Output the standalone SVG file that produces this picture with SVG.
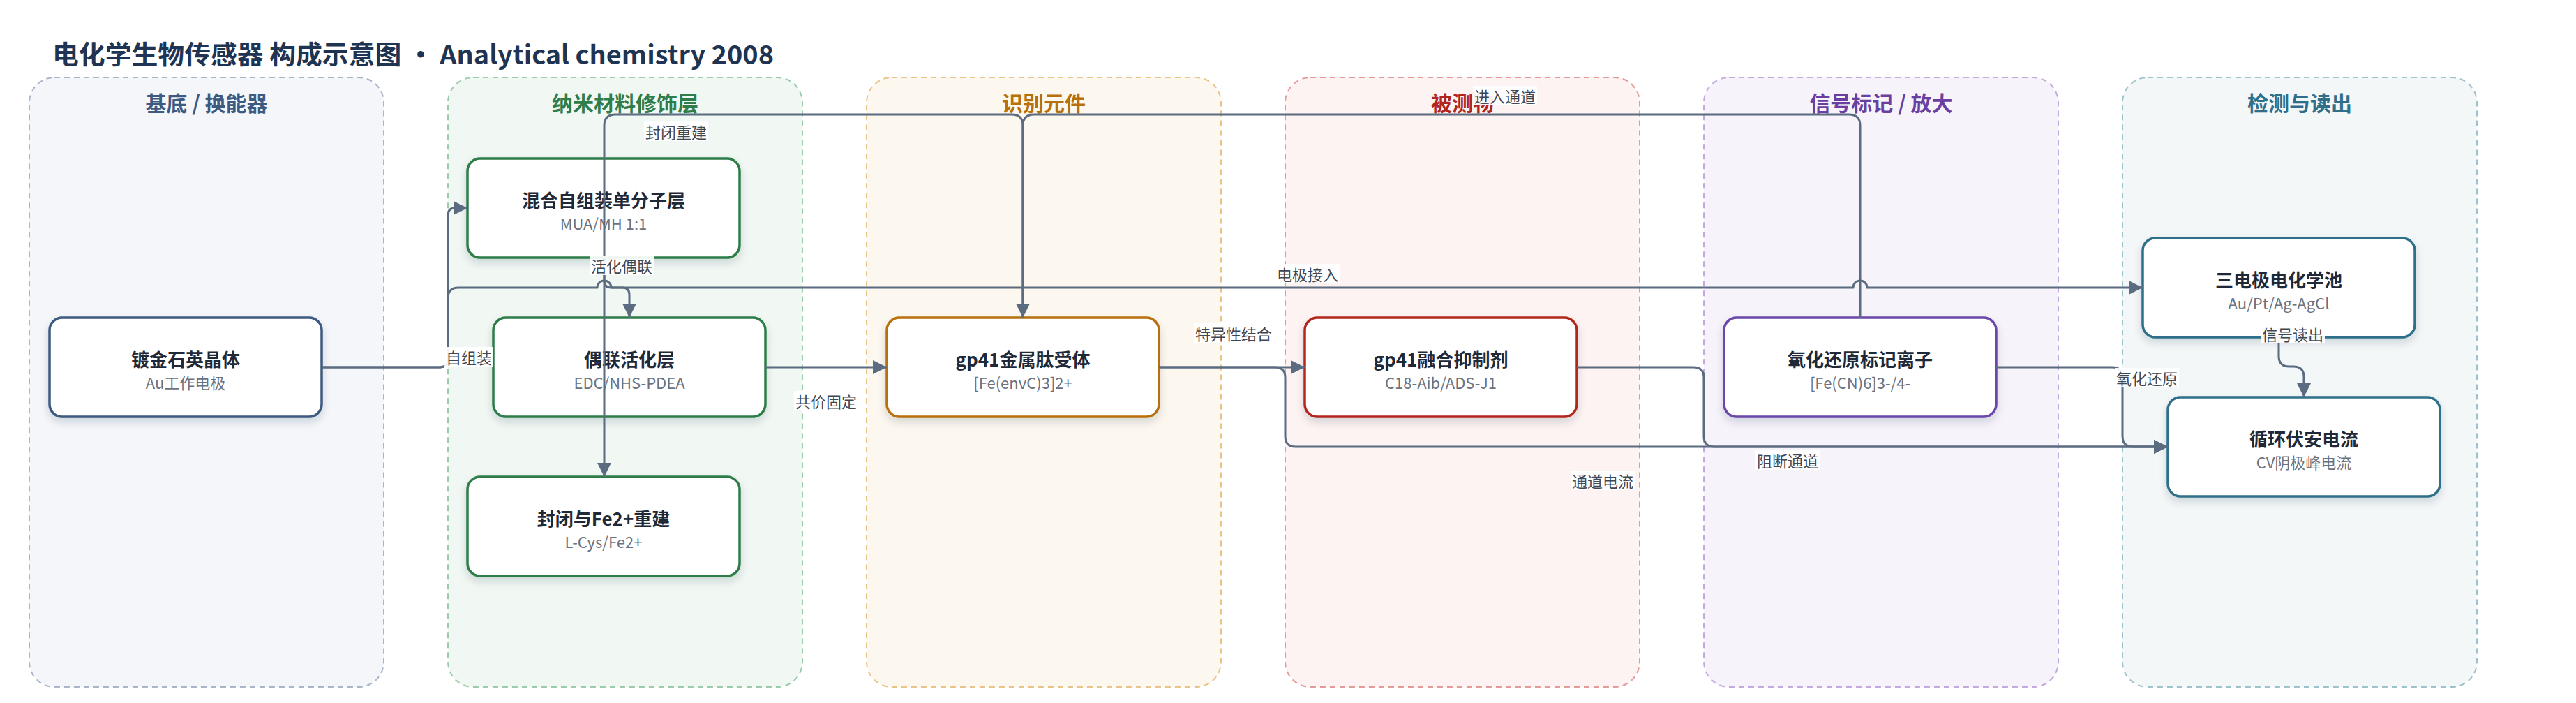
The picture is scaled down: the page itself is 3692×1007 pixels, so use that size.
<svg xmlns="http://www.w3.org/2000/svg" width="3692" height="1007" viewBox="0 0 3692 1007">
<defs>
<filter id="shadow" x="-10%" y="-15%" width="120%" height="150%">
<feDropShadow dx="0" dy="6" stdDeviation="6" flood-color="#1f2937" flood-opacity="0.16"/>
</filter>
<marker id="arrow" viewBox="0 0 20 20" refX="20" refY="10" markerWidth="20" markerHeight="20" markerUnits="userSpaceOnUse" orient="auto">
<path d="M0,0 L20,10 L0,20 z" fill="#5b6b80"/>
</marker>
</defs>
<style>
text{font-family:'Noto Sans CJK SC','Noto Sans',sans-serif}
.lane{stroke-width:2;stroke-dasharray:8 6}
.lt1{font-size:30px;font-weight:700;text-anchor:middle;dominant-baseline:central}
.node rect{fill:#ffffff;stroke-width:3.5;filter:url(#shadow)}
.nt{font-size:26px;font-weight:700;fill:#1f2937;text-anchor:middle;dominant-baseline:central}
.ns{font-size:22px;fill:#6b7280;text-anchor:middle;dominant-baseline:central}
.edge{fill:none;stroke:#5b6b80;stroke-width:3;stroke-linejoin:round}
.arr{marker-end:url(#arrow)}
.lbg{fill:#ffffff;fill-opacity:0.92}
.el{font-size:22px;fill:#3f4754;text-anchor:middle;dominant-baseline:central}
</style>
<rect width="3692" height="1007" fill="#ffffff"/>
<text x="75" y="76" font-size="37" font-weight="700" fill="#1e3452" dominant-baseline="central" textLength="1034" lengthAdjust="spacingAndGlyphs">电化学生物传感器 构成示意图 · Analytical chemistry 2008</text>

<g id="lanes">
<g id="lane-substrate">
<rect class="lane" x="42" y="111" width="508" height="873" rx="36" fill="#f4f6fa" stroke="#a9b5c9"/>
<text class="lt1" x="296" y="146" fill="#3d5a80">基底 / 换能器</text>
</g>
<g id="lane-nano">
<rect class="lane" x="642" y="111" width="508" height="873" rx="36" fill="#f1f8f3" stroke="#9ccbab"/>
<text class="lt1" x="896" y="146" fill="#2e7d4a">纳米材料修饰层</text>
</g>
<g id="lane-recog">
<rect class="lane" x="1242" y="111" width="508" height="873" rx="36" fill="#fdf8ef" stroke="#e9c489"/>
<text class="lt1" x="1496" y="146" fill="#b8700a">识别元件</text>
</g>
<g id="lane-analyte">
<rect class="lane" x="1842" y="111" width="508" height="873" rx="36" fill="#fdf3f2" stroke="#e49b98"/>
<text class="lt1" x="2096" y="146" fill="#b0261f">被测物</text>
</g>
<g id="lane-label">
<rect class="lane" x="2442" y="111" width="508" height="873" rx="36" fill="#f6f3fb" stroke="#c4a9e0"/>
<text class="lt1" x="2696" y="146" fill="#6b3fa0">信号标记 / 放大</text>
</g>
<g id="lane-detect">
<rect class="lane" x="3042" y="111" width="508" height="873" rx="36" fill="#f3f7f8" stroke="#9ec2cd"/>
<text class="lt1" x="3296" y="146" fill="#2f6f8a">检测与读出</text>
</g>
</g>

<g id="node-electrode" class="node">
<rect x="71" y="455" width="390" height="142" rx="18" stroke="#3d5a80"/>
<text class="nt" x="266" y="513">镀金石英晶体</text>
<text class="ns" x="266" y="547">Au工作电极</text>
</g>
<g id="node-sam" class="node">
<rect x="670" y="227" width="390" height="142" rx="18" stroke="#2e7d4a"/>
<text class="nt" x="865" y="285">混合自组装单分子层</text>
<text class="ns" x="865" y="319">MUA/MH 1:1</text>
</g>
<g id="node-coupling" class="node">
<rect x="707" y="455" width="390" height="142" rx="18" stroke="#2e7d4a"/>
<text class="nt" x="902" y="513">偶联活化层</text>
<text class="ns" x="902" y="547">EDC/NHS-PDEA</text>
</g>
<g id="node-blocking" class="node">
<rect x="670" y="683" width="390" height="142" rx="18" stroke="#2e7d4a"/>
<text class="nt" x="865" y="741">封闭与Fe2+重建</text>
<text class="ns" x="865" y="775">L-Cys/Fe2+</text>
</g>
<g id="node-receptor" class="node">
<rect x="1271" y="455" width="390" height="142" rx="18" stroke="#b8700a"/>
<text class="nt" x="1466" y="513">gp41金属肽受体</text>
<text class="ns" x="1466" y="547">[Fe(envC)3]2+</text>
</g>
<g id="node-inhibitor" class="node">
<rect x="1870" y="455" width="390" height="142" rx="18" stroke="#b3261e"/>
<text class="nt" x="2065" y="513">gp41融合抑制剂</text>
<text class="ns" x="2065" y="547">C18-Aib/ADS-J1</text>
</g>
<g id="node-redox" class="node">
<rect x="2471" y="455" width="390" height="142" rx="18" stroke="#6b46a8"/>
<text class="nt" x="2666" y="513">氧化还原标记离子</text>
<text class="ns" x="2666" y="547">[Fe(CN)6]3-/4-</text>
</g>
<g id="node-cell" class="node">
<rect x="3071" y="341" width="390" height="142" rx="18" stroke="#2f6f8a"/>
<text class="nt" x="3266" y="399">三电极电化学池</text>
<text class="ns" x="3266" y="433">Au/Pt/Ag-AgCl</text>
</g>
<g id="node-cv" class="node">
<rect x="3107" y="569" width="390" height="142" rx="18" stroke="#2f6f8a"/>
<text class="nt" x="3302" y="627">循环伏安电流</text>
<text class="ns" x="3302" y="661">CV阴极峰电流</text>
</g>

<g id="connectors">
<path class="edge arr" d="M461,526 H630 Q642,526 642,514 V308 Q642,298 652,298 H670"/>
<path class="edge arr" d="M461,526 H630 Q642,526 642,514 V427 Q642,412 657,412 H856 A10,10 0 0 1 876,412 H2656 A10,10 0 0 1 2676,412 H3071"/>
<path class="edge arr" d="M866,369 V402 Q866,412 876,412 H892 Q902,412 902,422 V455"/>
<path class="edge arr" d="M1466,455 V180 Q1466,164 1450,164 H882 Q866,164 866,180 V683"/>
<path class="edge arr" d="M2666,455 V180 Q2666,164 2650,164 H1482 Q1466,164 1466,180 V455"/>
<path class="edge arr" d="M1097,526 H1271"/>
<path class="edge arr" d="M1661,526 H1870"/>
<path class="edge arr" d="M1661,526 H1827 Q1842,526 1842,541 V625 Q1842,640 1857,640 H3107"/>
<path class="edge arr" d="M2260,526 H2427 Q2442,526 2442,541 V625 Q2442,640 2457,640 H3107"/>
<path class="edge arr" d="M2861,526 H3027 Q3042,526 3042,541 V625 Q3042,640 3057,640 H3107"/>
<path class="edge arr" d="M3266,483 V510 Q3266,525 3281,525 H3287 Q3302,525 3302,540 V569"/>
<g id="edge-labels">
<rect class="lbg" x="637" y="497" width="70" height="28"/><text class="el" x="672" y="511">自组装</text>
<rect class="lbg" x="1828" y="378" width="92" height="28"/><text class="el" x="1874" y="392">电极接入</text>
<rect class="lbg" x="845" y="366" width="92" height="28"/><text class="el" x="891" y="380">活化偶联</text>
<rect class="lbg" x="923" y="174" width="92" height="28"/><text class="el" x="969" y="188">封闭重建</text>
<rect class="lbg" x="2111" y="123" width="92" height="28"/><text class="el" x="2157" y="137">进入通道</text>
<rect class="lbg" x="1138" y="560" width="92" height="28"/><text class="el" x="1184" y="574">共价固定</text>
<rect class="lbg" x="1711" y="463" width="114" height="28"/><text class="el" x="1768" y="477">特异性结合</text>
<rect class="lbg" x="2251" y="674" width="92" height="28"/><text class="el" x="2297" y="688">通道电流</text>
<rect class="lbg" x="2516" y="645" width="92" height="28"/><text class="el" x="2562" y="659">阻断通道</text>
<rect class="lbg" x="3031" y="527" width="92" height="28"/><text class="el" x="3077" y="541">氧化还原</text>
<rect class="lbg" x="3240" y="464" width="92" height="28"/><text class="el" x="3286" y="478">信号读出</text>
</g>
</g>
</svg>
